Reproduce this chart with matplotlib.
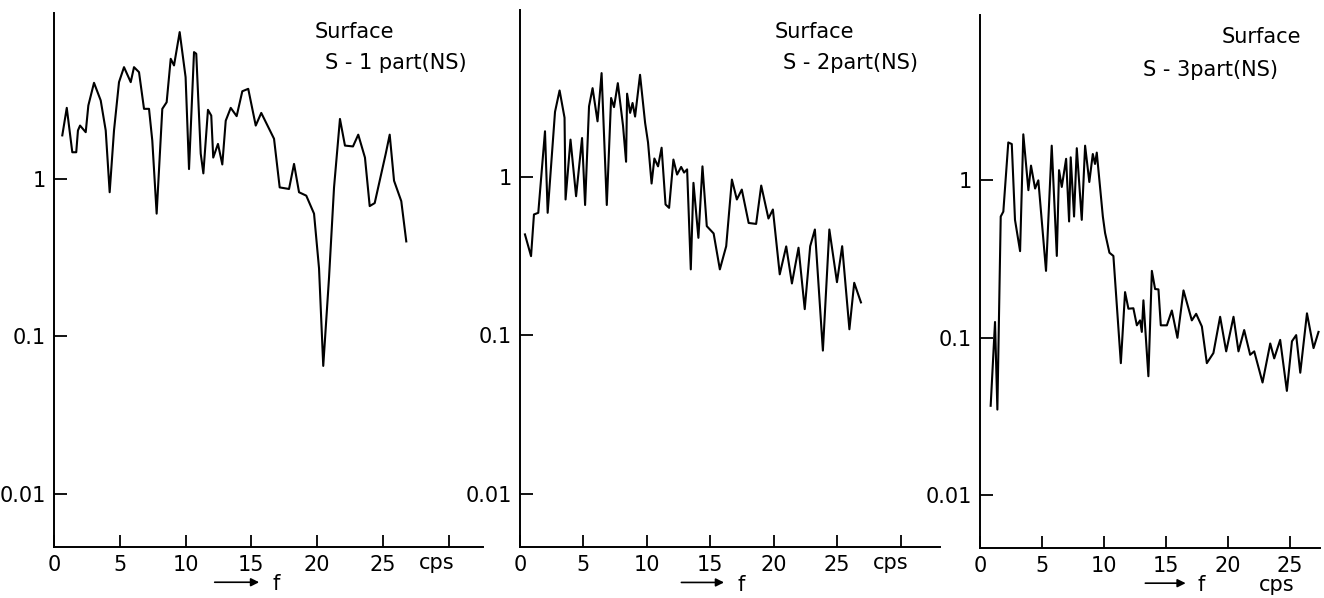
import matplotlib.pyplot as plt
from matplotlib.ticker import NullLocator

plt.rcParams['font.family'] = 'DejaVu Sans'

# Surface S-1 part (NS)
f1 = [0.63, 0.97, 1.39, 1.69, 1.82, 1.98, 2.41, 2.61, 3.04, 3.55, 3.93, 4.23, 4.56, 4.94,
      5.32, 5.83, 6.08, 6.46, 6.84, 7.22, 7.47, 7.80, 8.23, 8.56, 8.87, 9.12, 9.55, 10.0,
      10.26, 10.64, 10.81, 11.15, 11.35, 11.70, 11.95, 12.10, 12.46, 12.79, 13.05, 13.43,
      13.88, 14.31, 14.76, 15.33, 15.75, 16.72, 17.15, 17.86, 18.24, 18.62, 19.17, 19.76,
      20.14, 20.46, 20.90, 21.28, 21.73, 22.11, 22.72, 23.12, 23.63, 23.99, 24.37, 25.21,
      25.51, 25.84, 26.39, 26.77]
a1 = [1.88, 2.81, 1.47, 1.47, 2.02, 2.17, 1.97, 2.91, 4.05, 3.13, 2.02, 0.82, 2.02, 4.09,
      5.09, 4.09, 5.09, 4.73, 2.77, 2.77, 1.74, 0.60, 2.77, 3.05, 5.75, 5.22, 8.49, 4.40,
      1.15, 6.34, 6.19, 1.44, 1.08, 2.73, 2.51, 1.36, 1.66, 1.23, 2.33, 2.81,
      2.49, 3.58, 3.71, 2.17, 2.61, 1.79, 0.88, 0.86, 1.24, 0.82, 0.78, 0.60,
      0.27, 0.065, 0.236, 0.88, 2.39, 1.62, 1.60, 1.90, 1.36, 0.67, 0.70, 1.44,
      1.90, 0.97, 0.72, 0.40]

# Surface S-2 part (NS)
f2 = [0.39, 0.87, 1.10, 1.44, 1.97, 2.18, 2.76, 3.12, 3.51, 3.59, 3.98, 4.42, 4.89, 5.13,
      5.44, 5.72, 6.11, 6.43, 6.84, 7.18, 7.41, 7.71, 8.12, 8.36, 8.44, 8.68, 8.87, 9.07,
      9.46, 9.86, 10.09, 10.37, 10.59, 10.88, 11.16, 11.47, 11.75, 12.09, 12.38, 12.70,
      12.93, 13.17, 13.46, 13.67, 14.06, 14.38, 14.72, 15.26, 15.75, 16.25, 16.70, 17.09,
      17.48, 18.02, 18.61, 19.01, 19.58, 19.93, 20.47, 20.98, 21.43, 21.95, 22.44, 22.87,
      23.24, 23.87, 24.38, 24.98, 25.39, 25.96, 26.34, 26.87]
a2 = [0.432, 0.315, 0.577, 0.591, 1.93, 0.591, 2.56, 3.49, 2.35, 0.717, 1.71, 0.752, 1.75, 0.662,
      2.77, 3.61, 2.23, 4.49, 0.662, 3.13, 2.74, 3.88, 2.09, 1.24, 3.33, 2.52, 2.91, 2.39,
      4.38, 2.18, 1.64, 0.904, 1.30, 1.16, 1.52, 0.667, 0.635, 1.28, 1.03, 1.15,
      1.06, 1.11, 0.260, 0.913, 0.411, 1.16, 0.487, 0.438, 0.260, 0.364, 0.957, 0.717,
      0.828, 0.510, 0.503, 0.878, 0.544, 0.620, 0.242, 0.363, 0.212, 0.356, 0.146, 0.364,
      0.464, 0.080, 0.464, 0.216, 0.364, 0.109, 0.214, 0.161]

# Surface S-3 part (NS)
f3 = [0.86, 1.21, 1.40, 1.67, 1.88, 2.28, 2.56, 2.82, 3.23, 3.49, 3.90, 4.11, 4.44, 4.70,
      4.78, 5.32, 5.78, 6.19, 6.37, 6.59, 6.94, 7.18, 7.31, 7.58, 7.80, 8.20, 8.47, 8.81,
      9.09, 9.27, 9.41, 9.90, 10.08, 10.43, 10.75, 11.35, 11.69, 11.96, 12.36, 12.64,
      12.90, 13.04, 13.17, 13.57, 13.85, 14.11, 14.38, 14.57, 15.06, 15.46, 15.91, 16.40,
      17.07, 17.42, 17.88, 18.28, 18.81, 19.35, 19.84, 20.43, 20.83, 21.29, 21.77, 22.10,
      22.77, 23.39, 23.71, 24.19, 24.73, 25.14, 25.48, 25.81, 26.35, 26.88, 27.28]
a3 = [0.037, 0.126, 0.035, 0.589, 0.633, 1.74, 1.70, 0.561, 0.355, 1.96, 0.866, 1.24, 0.887, 1.0,
      0.845, 0.266, 1.66, 0.331, 1.16, 0.908, 1.37, 0.548, 1.40, 0.589, 1.60, 0.561, 1.66, 0.976,
      1.47, 1.27, 1.50, 0.589, 0.463, 0.347, 0.331, 0.069, 0.195, 0.153, 0.154, 0.120,
      0.129, 0.109, 0.173, 0.057, 0.266, 0.204, 0.203, 0.120, 0.120, 0.149, 0.100, 0.200,
      0.129, 0.142, 0.118, 0.069, 0.080, 0.136, 0.082, 0.136, 0.082, 0.112, 0.078, 0.082,
      0.052, 0.092, 0.074, 0.097, 0.046, 0.095, 0.104, 0.060, 0.143, 0.086, 0.109]

W, H = 1324, 598
fig = plt.figure(figsize=(W / 100, H / 100), dpi=100)


def px_axes(left, right, top, bottom):
    return fig.add_axes([left / W, 1 - bottom / H, (right - left) / W, (bottom - top) / H])


panels = [
    # data, axes box in pixels, xmax, subtitle, title positions, arrow x range, f x, cps (x, y)
    (f1, a1, (54, 483, 13, 547), 32.6, "S - 1 part(NS)", (315, 32), (325, 63), (12.0, 15.8), 16.9, (29.1, -0.03)),
    (f2, a2, (520, 940, 10, 547), 33.1, "S - 2part(NS)", (775, 32), (783, 63), (12.5, 16.3), 17.4, (29.2, -0.03)),
    (f3, a3, (980, 1320, 15, 548), 27.4, "S - 3part(NS)", (1222, 37), (1143, 70), (13.1, 16.8), 17.8, (23.9, -0.07)),
]

for f, a, box, xmax, sub, p_surf, p_sub, arr, fx, cps in panels:
    ax = px_axes(*box)
    ax.plot(f, a, color='black', lw=1.5)
    ax.set_yscale('log')
    ax.set_ylim(10 ** -2.335, 10 ** 1.05)
    ax.set_xlim(0, xmax)
    ax.spines['top'].set_visible(False)
    ax.spines['right'].set_visible(False)
    ax.spines['left'].set_linewidth(1.4)
    ax.spines['bottom'].set_linewidth(1.4)
    ax.set_yticks([0.01, 0.1, 1])
    ax.set_yticklabels(['0.01', '0.1', '1'])
    ax.yaxis.set_minor_locator(NullLocator())
    ticks = [t for t in [0, 5, 10, 15, 20, 25, 30] if t <= xmax]
    ax.set_xticks(ticks)
    ax.set_xticklabels([str(t) if t < 30 else '' for t in ticks])
    ax.tick_params(direction='in', length=9, width=1.3, labelsize=15, pad=6)
    ax.patch.set_visible(False)

    tr = ax.get_xaxis_transform()
    ax.annotate('', xy=(arr[1], -0.066), xytext=(arr[0], -0.066), xycoords=tr, textcoords=tr,
                arrowprops=dict(arrowstyle='-|>', color='black', lw=1.2, mutation_scale=12),
                annotation_clip=False)
    ax.text(fx, -0.07, 'f', transform=tr, fontsize=15, ha='center', va='center')
    ax.text(cps[0], cps[1], 'cps', transform=tr, fontsize=15, ha='center', va='center')

    fig.text(p_surf[0] / W, 1 - p_surf[1] / H, 'Surface', fontsize=15, ha='left', va='center')
    fig.text(p_sub[0] / W, 1 - p_sub[1] / H, sub, fontsize=15, ha='left', va='center')

fig.savefig('out.png', dpi=100)
